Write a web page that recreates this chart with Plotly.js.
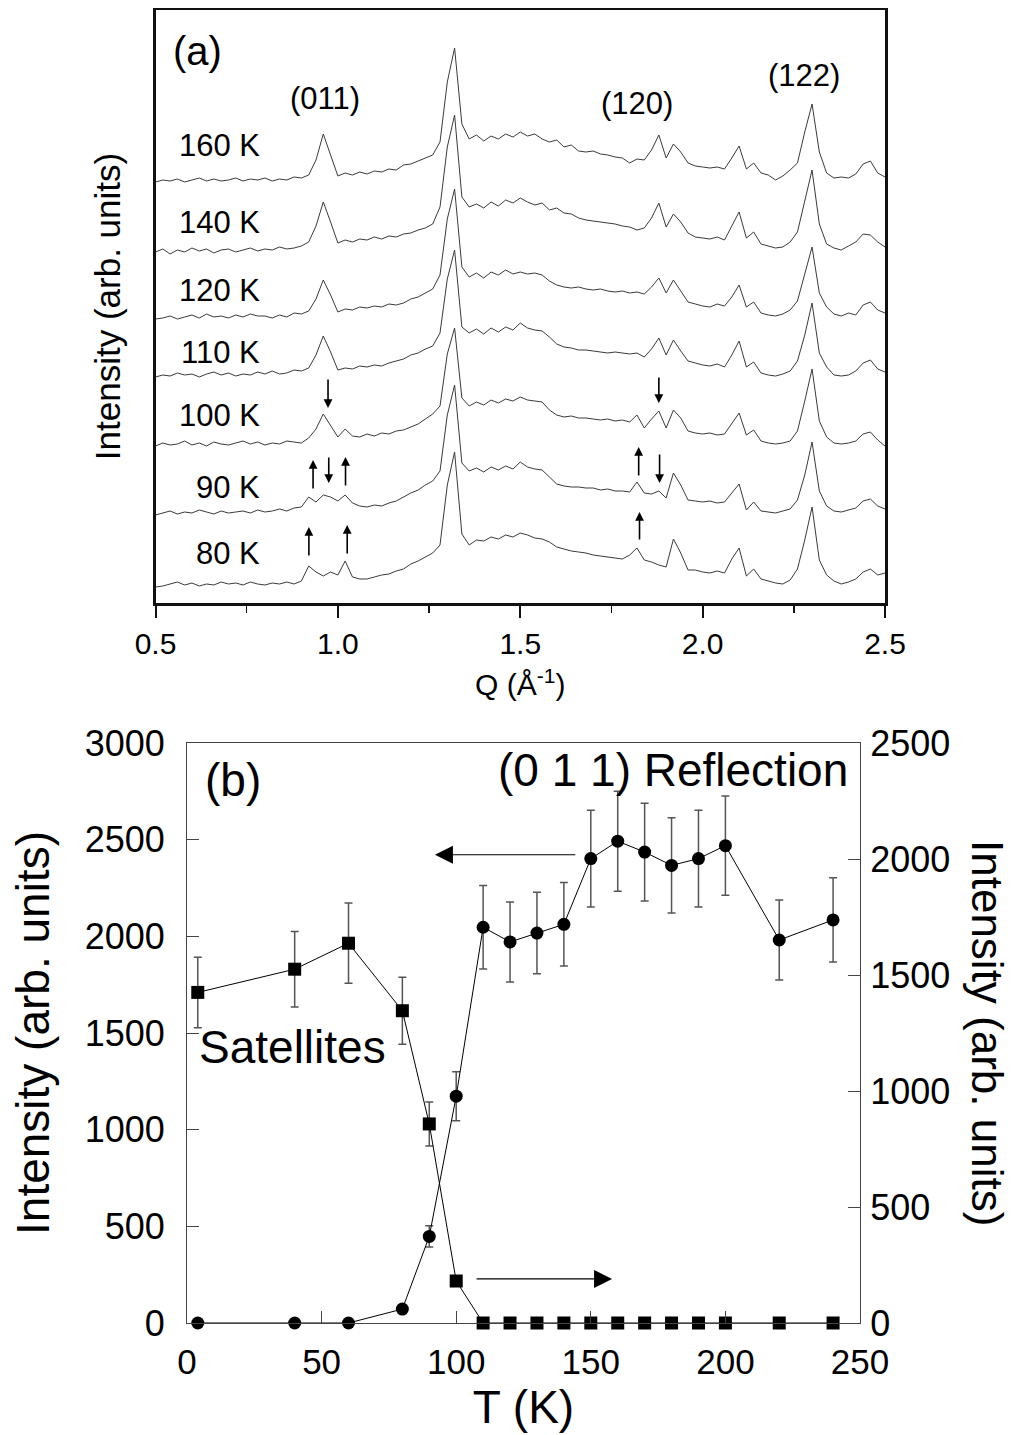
<!DOCTYPE html>
<html>
<head>
<meta charset="utf-8">
<script src="https://cdn.plot.ly/plotly-3.0.1.min.js"></script>
<style>html,body{margin:0;padding:0;background:#fff;}#plot{width:1019px;height:1435px;}</style>
</head>
<body>
<div id="plot"></div>
<script>
// ---------- Panel (a): diffraction patterns ----------
const Q = [0.50,0.52,0.54,0.56,0.58,0.60,0.62,0.64,0.66,0.68,0.70,0.72,0.74,0.76,0.78,0.80,0.82,0.84,0.86,0.88,
0.90,0.92,0.94,0.96,0.98,1.00,1.02,1.04,1.06,1.08,1.10,1.12,1.14,1.16,1.18,1.20,1.22,1.24,1.26,1.28,
1.30,1.32,1.34,1.36,1.38,1.40,1.42,1.44,1.46,1.48,1.50,1.52,1.54,1.56,1.58,1.60,1.62,1.64,1.66,1.68,
1.70,1.72,1.74,1.76,1.78,1.80,1.82,1.84,1.86,1.88,1.90,1.92,1.94,1.96,1.98,2.00,2.02,2.04,2.06,2.08,
2.10,2.12,2.14,2.16,2.18,2.20,2.22,2.24,2.26,2.28,2.30,2.32,2.34,2.36,2.38,2.40,2.42,2.44,2.46,2.48,2.50];

const I160 = [0,2,1,3,0,2,4,1,3,1,2,4,1,3,2,4,1,3,2,5,
4,7,22,48,28,6,9,7,10,8,11,10,13,12,17,18,21,24,27,40,
100,134,58,43,47,41,46,43,48,45,50,46,48,43,40,42,35,37,31,30,
31,28,27,25,24,19,23,22,32,47,24,38,30,19,16,15,14,15,13,24,
36,13,19,9,7,2,6,12,19,50,78,30,9,4,5,4,8,18,21,9,5];

const I140 = [0,3,-2,2,0,4,1,3,-1,2,3,0,2,4,1,3,2,5,3,4,
6,10,26,50,30,9,12,10,13,12,15,13,16,15,18,19,22,24,28,45,
105,137,55,45,48,44,50,46,52,49,54,50,47,49,42,44,39,38,34,32,
31,30,29,28,26,25,22,24,34,49,25,38,30,19,15,14,13,15,12,26,
40,14,20,8,6,4,5,10,20,52,82,28,8,4,2,6,10,18,17,10,5];

const I120 = [0,1,3,0,2,4,1,5,2,3,1,4,2,5,3,3,1,4,2,6,
5,8,20,39,24,7,10,9,12,11,13,12,15,14,16,20,22,26,30,44,
100,130,52,42,46,41,47,44,49,45,47,45,46,44,38,34,32,31,32,30,
29,30,28,27,28,26,27,25,32,41,26,39,28,17,15,13,12,15,13,22,
34,12,17,6,4,3,5,9,18,45,72,26,12,5,3,6,4,14,17,9,6];

const I110 = [0,2,1,4,2,3,0,3,5,2,4,1,3,2,5,3,6,3,4,7,
6,9,22,41,25,7,9,8,11,10,12,11,14,16,18,22,24,28,31,44,
98,127,50,44,48,43,49,45,50,47,54,49,47,46,40,33,30,29,27,27,
26,25,24,25,24,23,24,20,28,39,22,37,26,16,14,12,11,13,10,22,
36,10,15,4,2,1,3,6,16,42,74,24,10,2,1,2,6,14,17,8,5];

const I100 = [0,3,1,2,5,1,3,0,4,2,1,3,5,2,4,1,3,2,5,4,
3,8,17,32,20,9,17,10,9,12,10,13,12,15,16,19,22,27,32,40,
92,118,48,40,44,41,46,43,47,45,49,46,45,44,36,31,29,30,28,28,
27,26,27,25,26,24,31,18,27,35,18,36,28,15,13,12,13,11,12,22,
33,11,16,5,3,2,3,5,15,45,77,25,9,3,2,3,5,12,14,6,0];

const I90 = [0,2,4,1,3,2,5,3,1,4,2,3,4,2,5,3,4,6,4,7,
8,18,13,20,18,14,20,12,9,8,10,9,12,14,18,22,25,30,34,44,
100,130,52,44,47,43,48,45,49,46,53,48,46,45,38,31,29,28,28,27,
27,25,26,24,24,23,33,22,21,24,17,42,30,15,14,13,14,12,13,22,
31,5,13,4,3,2,4,6,15,40,73,24,9,4,3,5,7,14,16,9,6];

const I80 = [0,1,3,5,2,4,1,3,2,5,3,4,2,5,3,2,4,3,5,3,
6,21,15,11,15,12,26,10,8,8,10,12,13,16,18,23,26,30,34,42,
102,135,53,42,47,46,50,48,52,50,54,52,49,48,45,40,38,36,35,34,
32,31,30,29,28,32,39,27,25,22,20,48,34,17,17,15,14,16,14,28,
39,11,18,8,6,4,3,7,18,47,80,27,12,6,3,5,8,15,18,12,14];

const tempLabels = ['160 K','140 K','120 K','110 K','100 K','90 K','80 K'];
const patterns = [I160, I140, I120, I110, I100, I90, I80];
const peakLabels = ['(011)', '(120)', '(122)'];

// ---------- Panel (b): temperature dependence ----------
const T_refl = [4,40,60,80,90,100,110,120,130,140,150,160,170,180,190,200,220,240];
const I_refl = [0,0,0,72,448,1173,2047,1971,2017,2062,2402,2492,2436,2367,2402,2469,1981,2085];
const E_refl = [0,0,0,0,55,127,216,207,211,216,250,259,253,246,250,257,207,218];

const T_sat = [4,40,60,80,90,100,110,120,130,140,150,160,170,180,190,200,220,240];
const I_sat = [1425,1525,1637,1346,858,181,0,0,0,0,0,0,0,0,0,0,0,0];
const E_sat = [152,163,173,144,95,15,0,0,0,0,0,0,0,0,0,0,0,0];

// ---------- build ----------
const FONT = 'Liberation Sans, Arial, Helvetica, sans-serif';
const offsets = [421,351,284,226,157,88,16];
const labelPos = [458,381,313,251,188,116,50];

const traces = [];
patterns.forEach((arr, k) => {
  traces.push({
    x: Q, y: arr.map(v => v + offsets[k]),
    xaxis: 'x', yaxis: 'y', mode: 'lines', type: 'scatter',
    line: {color: '#3a3a3a', width: 1}, showlegend: false, hoverinfo: 'skip'
  });
});

traces.push({
  x: T_refl, y: I_refl, xaxis: 'x2', yaxis: 'y2', type: 'scatter', mode: 'lines+markers',
  line: {color: '#000', width: 1}, marker: {symbol: 'circle', size: 13, color: '#000'},
  error_y: {type: 'data', array: E_refl, visible: true, color: '#555', thickness: 1.5, width: 4},
  cliponaxis: false, showlegend: false
});
traces.push({
  x: T_sat, y: I_sat, xaxis: 'x2', yaxis: 'y3', type: 'scatter', mode: 'lines+markers',
  line: {color: '#000', width: 1}, marker: {symbol: 'square', size: 13, color: '#000'},
  error_y: {type: 'data', array: E_sat, visible: true, color: '#555', thickness: 1.5, width: 4},
  cliponaxis: false, showlegend: false
});

const ann = [];
tempLabels.forEach((t, k) => {
  ann.push({text: t, xref: 'x', yref: 'y', x: 0.792, y: labelPos[k], xanchor: 'right', yanchor: 'middle',
    showarrow: false, font: {family: FONT, size: 31, color: '#000'}});
});
ann.push({text: '(a)', xref: 'x', yref: 'y', x: 0.614, y: 552, showarrow: false,
  font: {family: FONT, size: 40, color: '#000'}});
const peakPos = [[0.965, 505], [1.819, 500], [2.279, 528]];
peakLabels.forEach((p, k) => {
  ann.push({text: p, xref: 'x', yref: 'y', x: peakPos[k][0], y: peakPos[k][1], showarrow: false,
    font: {family: FONT, size: 31, color: '#000'}});
});
// small marker arrows in panel (a): [Q, value at tip, ay]
const smallArrows = [
  [0.973, 195, -30], [0.932, 143, 30], [0.975, 120, -27], [1.021, 146, 30],
  [0.9205, 76, 30], [1.0256, 78, 30],
  [1.880, 200, -27], [1.8247, 156, 30], [1.882, 120, -30], [1.827, 91, 29]
];
smallArrows.forEach(a => {
  ann.push({text: '', xref: 'x', yref: 'y', x: a[0], y: a[1], ax: 0, ay: a[2], showarrow: true,
    arrowhead: 2, arrowsize: 1.1, arrowwidth: 1.6, arrowcolor: '#000'});
});

// panel (b) texts
ann.push({text: '(b)', xref: 'x2', yref: 'y2', x: 17.1, y: 2809, showarrow: false,
  font: {family: FONT, size: 46, color: '#000'}});
ann.push({text: '(0 1 1) Reflection', xref: 'x2', yref: 'y2', x: 246.3, y: 2860, xanchor: 'right', showarrow: false,
  font: {family: FONT, size: 46, color: '#000'}});
ann.push({text: 'Satellites', xref: 'x2', yref: 'y2', x: 3.7, y: 1428, xanchor: 'left', showarrow: false,
  font: {family: FONT, size: 46, color: '#000'}});
// big arrows
ann.push({text: '', xref: 'x2', yref: 'y2', axref: 'x2', ayref: 'y2', x: 92.1, y: 2422, ax: 144.8, ay: 2422,
  showarrow: true, arrowhead: 2, arrowsize: 3, arrowwidth: 1.2, arrowcolor: '#000'});
ann.push({text: '', xref: 'x2', yref: 'y2', axref: 'x2', ayref: 'y2', x: 157.9, y: 228, ax: 107, ay: 228,
  showarrow: true, arrowhead: 2, arrowsize: 3, arrowwidth: 1.2, arrowcolor: '#000'});
// right axis title (reads top to bottom)
ann.push({text: 'Intensity (arb. units)', xref: 'paper', yref: 'paper', x: 988/1019, y: (1435-1033)/1435,
  xanchor: 'center', yanchor: 'middle',
  textangle: 90, showarrow: false, font: {family: FONT, size: 44, color: '#000'}});

const layout = {
  width: 1019, height: 1435,
  margin: {l: 0, r: 0, t: 0, b: 0},
  paper_bgcolor: '#fff', plot_bgcolor: '#fff',
  font: {family: FONT, color: '#000'},
  showlegend: false,
  xaxis: {
    domain: [155.5/1019, 885/1019], anchor: 'y', range: [0.5, 2.5],
    dtick: 0.5, tick0: 0.5, tickformat: '.1f', ticks: 'outside', ticklen: 12, tickwidth: 2, tickcolor: '#111',
    minor: {dtick: 0.25, tick0: 0.5, ticks: 'outside', ticklen: 7, tickwidth: 1.5, tickcolor: '#111'},
    showline: true, linewidth: 2.5, linecolor: '#111', mirror: true,
    showgrid: false, zeroline: false, tickfont: {size: 30, family: FONT},
    title: {text: 'Q (Å<sup>-1</sup>)', font: {size: 30, family: FONT}, standoff: 16}
  },
  yaxis: {
    domain: [(1435-603)/1435, (1435-10)/1435], anchor: 'x', range: [0, 593],
    showticklabels: false, ticks: '', showgrid: false, zeroline: false,
    showline: true, linewidth: 2.5, linecolor: '#111', mirror: true,
    title: {text: 'Intensity (arb. units)', font: {size: 35, family: FONT}, standoff: 22}
  },
  xaxis2: {
    domain: [187/1019, 860/1019], anchor: 'y2', range: [0, 250],
    dtick: 50, ticks: 'inside', ticklen: 12, tickwidth: 1, tickcolor: '#444',
    showline: true, linewidth: 1, linecolor: '#444', mirror: true,
    showgrid: false, zeroline: false, tickfont: {size: 35, family: FONT}, ticklabelstandoff: 8,
    title: {text: 'T (K)', font: {size: 46, family: FONT}, standoff: 4}
  },
  yaxis2: {
    domain: [(1435-1323)/1435, (1435-743)/1435], anchor: 'x2', range: [0, 3000],
    dtick: 500, ticks: 'inside', ticklen: 12, tickwidth: 1, tickcolor: '#444',
    showline: true, linewidth: 1, linecolor: '#444',
    showgrid: false, zeroline: false, tickfont: {size: 36, family: FONT}, ticklabelstandoff: 14,
    title: {text: 'Intensity (arb. units)', font: {size: 46, family: FONT}, standoff: 20}
  },
  yaxis3: {
    overlaying: 'y2', side: 'right', anchor: 'x2', range: [0, 2500],
    dtick: 500, ticks: 'inside', ticklen: 12, tickwidth: 1, tickcolor: '#444',
    showline: true, linewidth: 1, linecolor: '#444',
    showgrid: false, zeroline: false, tickfont: {size: 36, family: FONT}, ticklabelstandoff: 2
  },
  annotations: ann
};

Plotly.newPlot('plot', traces, layout, {staticPlot: true, displayModeBar: false});
</script>
</body>
</html>
